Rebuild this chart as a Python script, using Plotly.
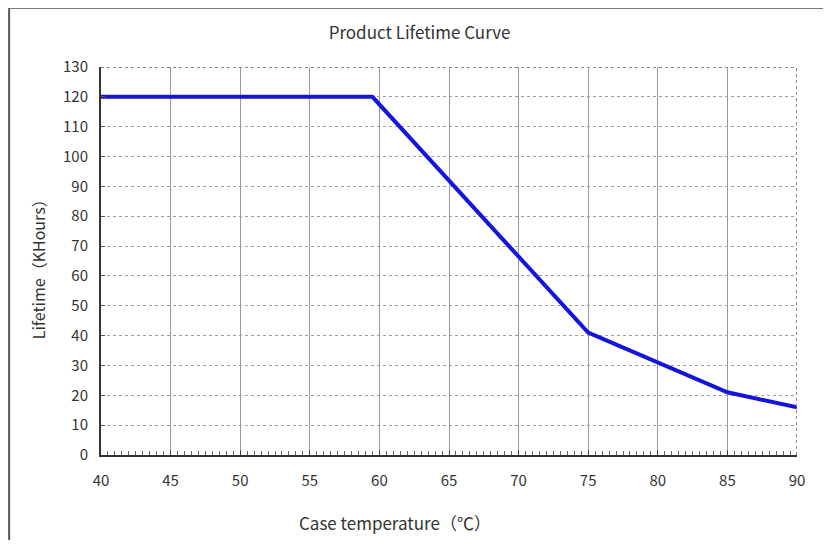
import plotly.graph_objects as go

temperature = [40, 59.5, 75, 85, 90]
lifetime_khours = [120, 120, 41, 21, 16]
x_ticks = [40, 45, 50, 55, 60, 65, 70, 75, 80, 85, 90]
y_ticks = [0, 10, 20, 30, 40, 50, 60, 70, 80, 90, 100, 110, 120, 130]

FONT = "Noto Sans CJK SC"

fig = go.Figure()
fig.add_trace(go.Scatter(
    x=temperature, y=lifetime_khours, mode="lines",
    line=dict(color="#1414dc", width=4), showlegend=False,
))

fig.update_layout(
    width=815, height=532,
    margin=dict(l=93, r=26, t=59, b=85),
    paper_bgcolor="white", plot_bgcolor="white",
    font=dict(family=FONT, size=15, color="#333333"),
    title=dict(text="Product Lifetime Curve", x=0.505, xanchor="center",
               y=0.953, yanchor="middle", font=dict(size=17, color="#333333")),
    xaxis=dict(
        range=[40, 90], tickvals=x_ticks, ticktext=[str(v) for v in x_ticks],
        showgrid=True, gridcolor="#9a9a9a", gridwidth=1,
        showline=True, linecolor="#333333", linewidth=2,
        ticks="inside", ticklen=5, tickcolor="#444444",
        minor=dict(dtick=0.5, ticks="inside", ticklen=4, tickcolor="#666666", showgrid=False),
        ticklabelstandoff=11, zeroline=False,
        tickfont=dict(size=15, color="#333333"),
    ),
    yaxis=dict(
        range=[0, 130], tickvals=y_ticks, ticktext=[str(v) for v in y_ticks],
        showgrid=True, gridcolor="#a0a0a0", gridwidth=1, griddash="dot",
        showline=True, linecolor="#333333", linewidth=2,
        ticks="inside", ticklen=4, tickcolor="#555555",
        ticklabelstandoff=8, zeroline=False,
        tickfont=dict(size=15, color="#333333"),
    ),
    annotations=[
        dict(text="Case temperature（℃）", xref="paper", yref="paper",
             x=0.422, y=-0.175, xanchor="center", yanchor="middle",
             showarrow=False, font=dict(size=17, color="#333333")),
        dict(text="Lifetime（KHours）", xref="paper", yref="paper",
             x=-0.09, y=0.49, xanchor="center", yanchor="middle",
             textangle=-90, showarrow=False, font=dict(size=16, color="#333333")),
    ],
    shapes=[
        # dotted top and right plot borders
        dict(type="line", xref="x", yref="y", x0=40, x1=90, y0=130, y1=130,
             line=dict(color="#8a8a8a", width=2, dash="dot")),
        dict(type="line", xref="x", yref="y", x0=90, x1=90, y0=0, y1=130,
             line=dict(color="#8a8a8a", width=2, dash="dot")),
        # outer frame (left and top edges)
        dict(type="line", xref="paper", yref="paper", x0=-0.132, x1=-0.132, y0=1.155, y1=-0.24,
             line=dict(color="#555555", width=2)),
        dict(type="line", xref="paper", yref="paper", x0=-0.132, x1=1.05, y0=1.152, y1=1.152,
             line=dict(color="#777777", width=2)),
    ],
)

fig.write_html("out.html")
